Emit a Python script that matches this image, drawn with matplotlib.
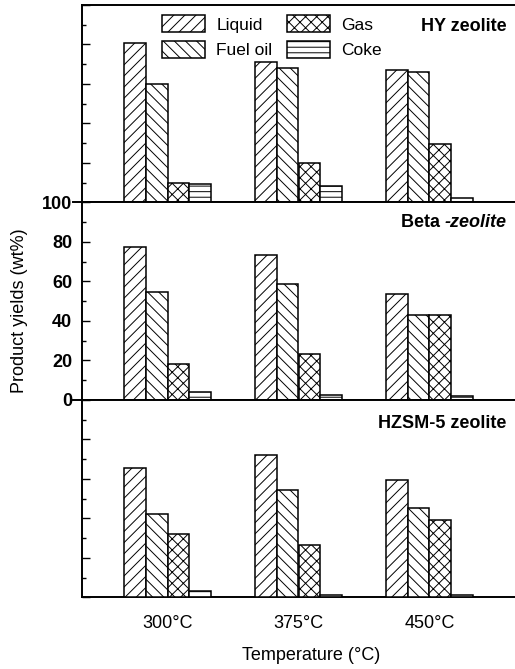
import numpy as np
import matplotlib
matplotlib.use('Agg')
import matplotlib.pyplot as plt
from matplotlib.ticker import MultipleLocator

plt.rcParams['font.family'] = ['Liberation Sans', 'DejaVu Sans']
plt.rcParams['hatch.linewidth'] = 0.7

temperatures = ['300\u00b0C', '375\u00b0C', '450\u00b0C']
products = ['Liquid', 'Fuel oil', 'Gas', 'Coke']

hy_liquid = [81, 71, 67]
hy_fuel = [60, 68, 66]
hy_gas = [10, 20, 29.5]
hy_coke = [9.5, 8.5, 2.2]

beta_liquid = [77.5, 73.3, 53.6]
beta_fuel = [54.4, 58.5, 43.0]
beta_gas = [18.2, 23.1, 43.2]
beta_coke = [4.1, 2.7, 1.9]

hzsm_liquid = [65.5, 72.0, 59.2]
hzsm_fuel = [42.1, 54.5, 45.3]
hzsm_gas = [32.0, 26.7, 39.2]
hzsm_coke = [3.0, 1.3, 1.3]

panels = [
    ('HY zeolite', [hy_liquid, hy_fuel, hy_gas, hy_coke]),
    ('Beta -zeolite', [beta_liquid, beta_fuel, beta_gas, beta_coke]),
    ('HZSM-5 zeolite', [hzsm_liquid, hzsm_fuel, hzsm_gas, hzsm_coke]),
]
hatches = ['///', '\\\\\\', 'xxx', '---']

fig = plt.figure(figsize=(5.15, 6.69), dpi=100)
gs = fig.add_gridspec(3, 1, left=82/515, right=1.0, top=1-5/669,
                      bottom=1-597.3/669, hspace=0)

x = np.arange(len(temperatures))
w = 0.166
axes = []
for i, (name, series) in enumerate(panels):
    ax = fig.add_subplot(gs[i])
    axes.append(ax)
    handles = []
    for j, (vals, h) in enumerate(zip(series, hatches)):
        b = ax.bar(x + (j - 1.5) * w, vals, width=w, facecolor='white',
                   edgecolor='black', linewidth=1.1, hatch=h,
                   label=products[j], zorder=3)
        handles.append(b)
    ax.set_xlim(-0.653, 2.653)
    ax.set_ylim(0, 100)
    ax.spines['right'].set_visible(False)
    for s in ['left', 'top', 'bottom']:
        ax.spines[s].set_linewidth(1.4)
    ax.yaxis.set_major_locator(MultipleLocator(20))
    ax.yaxis.set_minor_locator(MultipleLocator(10))
    ax.tick_params(axis='y', which='major', direction='in', length=6,
                   width=1.0, pad=7, labelsize=13)
    ax.tick_params(axis='y', which='minor', direction='in', length=3,
                   width=1.0)
    ax.set_xticks(x)
    ax.tick_params(axis='x', length=0, pad=13, labelsize=13)
    if i != 2:
        ax.tick_params(axis='x', labelbottom=False)
    else:
        ax.set_xticklabels(temperatures)
    if i != 1:
        ax.tick_params(axis='y', labelleft=False)
    else:
        for lab in ax.get_yticklabels():
            lab.set_fontweight('bold')
        for yv in (0, 100):
            ax.plot([-0.02, 0], [yv, yv], transform=ax.get_yaxis_transform(),
                    color='black', linewidth=1.4, clip_on=False)
    if i == 0:
        ax.text(0.981, 0.889, name, transform=ax.transAxes, ha='right',
                va='center', fontsize=13, fontweight='bold')
        ax.legend(handles=handles, ncol=2, loc='upper left',
                  bbox_to_anchor=(0.184, 0.949), frameon=False, fontsize=12.5,
                  borderpad=0, borderaxespad=0, handlelength=2.47,
                  handleheight=1.15, handletextpad=0.67, columnspacing=0.85,
                  labelspacing=0.46)
    elif i == 1:
        t = ax.text(0.981, 0.898, '-zeolite', transform=ax.transAxes,
                    ha='right', va='center', fontsize=13, fontweight='bold',
                    style='italic')
        ax.annotate('Beta ', xy=(0, 0.5), xycoords=t, ha='right', va='center',
                    fontsize=13, fontweight='bold')
    else:
        ax.text(0.981, 0.879, name, transform=ax.transAxes, ha='right',
                va='center', fontsize=13, fontweight='bold')

fig.text(311/515, 1-655/669, 'Temperature (\u00b0C)', ha='center',
         va='center', fontsize=13)
fig.text(20/515, 1-310.7/669, 'Product yields (wt%)', ha='center',
         va='center', rotation=90, fontsize=13)

fig.savefig('out.png', dpi=100)
